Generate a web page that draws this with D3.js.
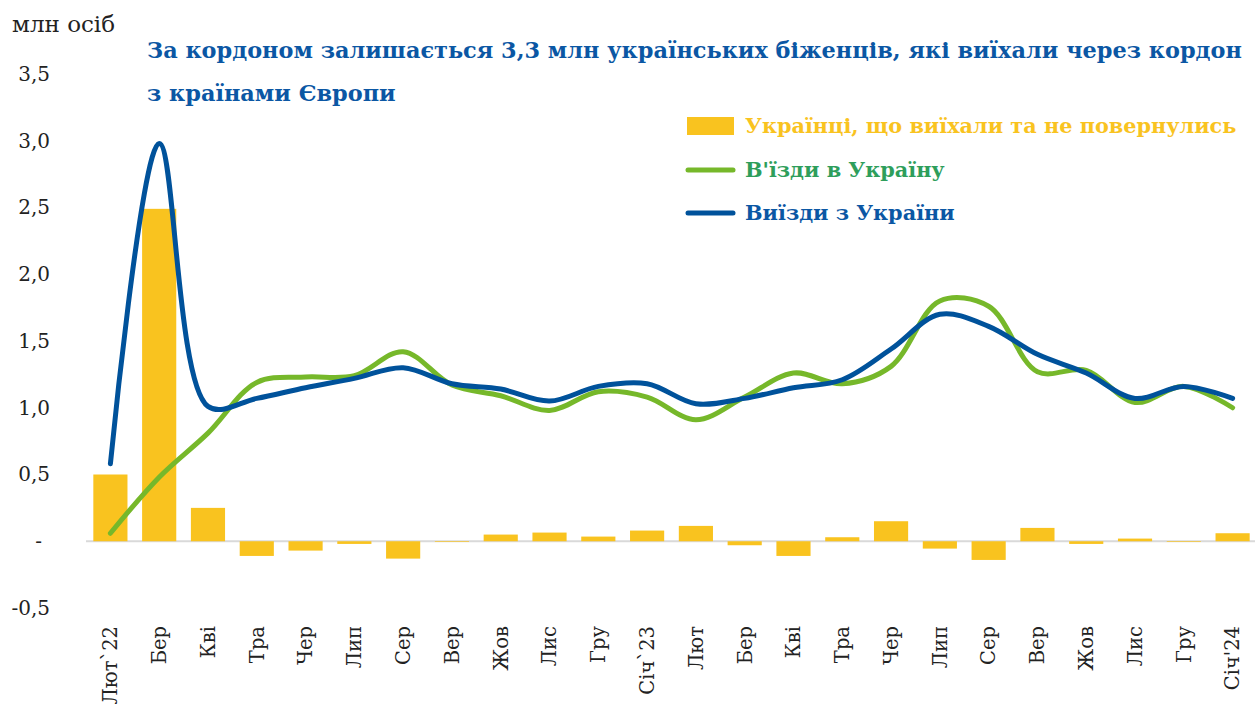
<!DOCTYPE html>
<html lang="uk">
<head>
<meta charset="utf-8">
<title>Біженці</title>
<script src="https://cdn.jsdelivr.net/npm/d3@7"></script>
<style>
body { margin:0; background:#fff; }
text { font-family:"DejaVu Serif","Liberation Serif",serif; }
</style>
</head>
<body>
<script>
// categories: months Feb 2022 .. Jan 2024
var months = ["Лют`22","Бер","Кві","Тра","Чер","Лип","Сер","Вер","Жов","Лис","Гру","Січ`23",
              "Лют","Бер","Кві","Тра","Чер","Лип","Сер","Вер","Жов","Лис","Гру","Січ'24"];
// Українці, що виїхали та не повернулись (млн)
var netOut = [0.50, 2.49, 0.25, -0.11, -0.07, -0.02, -0.13, -0.005, 0.05, 0.065, 0.035, 0.08,
              0.115, -0.03, -0.11, 0.03, 0.15, -0.055, -0.14, 0.10, -0.02, 0.02, -0.005, 0.06];
// В'їзди в Україну
var entries = [0.06, 0.48, 0.81, 1.19, 1.23, 1.24, 1.42, 1.17, 1.09, 0.98, 1.12, 1.08,
               0.91, 1.08, 1.26, 1.18, 1.31, 1.80, 1.76, 1.27, 1.28, 1.04, 1.16, 1.00];
// Виїзди з України
var exits = [0.58, 2.98, 1.01, 1.07, 1.15, 1.22, 1.30, 1.18, 1.14, 1.05, 1.16, 1.18,
             1.03, 1.07, 1.15, 1.21, 1.44, 1.70, 1.61, 1.40, 1.26, 1.07, 1.16, 1.07];
var yTicks = [-0.5, 0, 0.5, 1, 1.5, 2, 2.5, 3, 3.5];

var W = 1255, H = 706;
var cYellow = "#f9c31f", cGreen = "#76b82a", cBlue = "#00529b";

var svg = d3.select("body").append("svg")
    .attr("width", W).attr("height", H);

var x = d3.scaleBand().domain(d3.range(months.length)).range([86, 1257]).paddingInner(0.3).paddingOuter(0.15);
var y = d3.scaleLinear().domain([-0.5, 3.5]).range([608, 74]);
var cx = function(i) { return x(i) + x.bandwidth() / 2; };

// zero line
svg.append("line")
    .attr("x1", 86).attr("x2", W)
    .attr("y1", y(0)).attr("y2", y(0))
    .style("stroke", "#d9d9d9").style("stroke-width", 2);

// y axis labels
var yAxis = d3.axisLeft(y).tickValues(yTicks).tickSize(0)
    .tickFormat(function(d) { return d === 0 ? "-" : d3.format(".1f")(d).replace(".", ",").replace("\u2212", "-"); });
var gy = svg.append("g").attr("transform", "translate(50,0)").call(yAxis);
gy.select(".domain").remove();
gy.selectAll("text")
    .attr("x", function(d) { return d === 0 ? -8 : 0; })
    .style("font-size", "20px").style("fill", "#222");

// bars
svg.selectAll("rect.bar")
    .data(netOut).enter().append("rect")
    .attr("class", "bar")
    .attr("x", function(d, i) { return x(i); })
    .attr("width", x.bandwidth())
    .attr("y", function(d) { return y(Math.max(0, d)); })
    .attr("height", function(d) { return Math.abs(y(d) - y(0)); })
    .style("fill", cYellow);

// x axis labels (rotated), placed below the plot
var xAxis = d3.axisBottom(x).tickSize(0).tickFormat(function(i) { return months[i]; });
var gx = svg.append("g").attr("transform", "translate(0,626)").call(xAxis);
gx.select(".domain").remove();
gx.selectAll("text")
    .attr("transform", "rotate(-90)")
    .attr("x", 0).attr("y", 0).attr("dy", "0.35em")
    .style("text-anchor", "end")
    .style("font-size", "19.5px").style("fill", "#222");

// lines
var line = function(vals) {
    return d3.line()
        .x(function(d, i) { return cx(i); })
        .y(function(d) { return y(d); })
        .curve(d3.curveCatmullRom.alpha(0.5))(vals);
};
svg.append("path").attr("d", line(entries))
    .style("fill", "none").style("stroke", cGreen).style("stroke-width", 5).style("stroke-linecap", "round");
svg.append("path").attr("d", line(exits))
    .style("fill", "none").style("stroke", cBlue).style("stroke-width", 5).style("stroke-linecap", "round");

// unit label
svg.append("text").attr("x", 12).attr("y", 32)
    .text("млн осіб").style("font-size", "23px").style("fill", "#222");

// title
var title = svg.append("text").style("font-size", "22.4px").style("font-weight", "bold").style("fill", "#0b57a4");
title.append("tspan").attr("x", 147).attr("y", 58)
    .text("За кордоном залишається 3,3 млн українських біженців, які виїхали через кордон");
title.append("tspan").attr("x", 147).attr("y", 101)
    .text("з країнами Європи");

// legend
var legend = svg.append("g");
legend.append("rect").attr("x", 687).attr("y", 117).attr("width", 47).attr("height", 18).style("fill", cYellow);
legend.append("line").attr("x1", 688).attr("x2", 733).attr("y1", 170).attr("y2", 170)
    .style("stroke", cGreen).style("stroke-width", 5).style("stroke-linecap", "round");
legend.append("line").attr("x1", 688).attr("x2", 733).attr("y1", 213).attr("y2", 213)
    .style("stroke", cBlue).style("stroke-width", 5).style("stroke-linecap", "round");
var legItems = [
    {t: "Українці, що виїхали та не повернулись", y: 133, c: "#f9c31f"},
    {t: "В'їзди в Україну", y: 177, c: "#2e9e5b"},
    {t: "Виїзди з України", y: 220, c: "#0b57a4"}
];
legend.selectAll("text.leg").data(legItems).enter().append("text")
    .attr("class", "leg")
    .attr("x", 745).attr("y", function(d) { return d.y; })
    .text(function(d) { return d.t; })
    .style("font-size", "20.8px").style("font-weight", "bold")
    .style("fill", function(d) { return d.c; });
</script>
</body>
</html>
